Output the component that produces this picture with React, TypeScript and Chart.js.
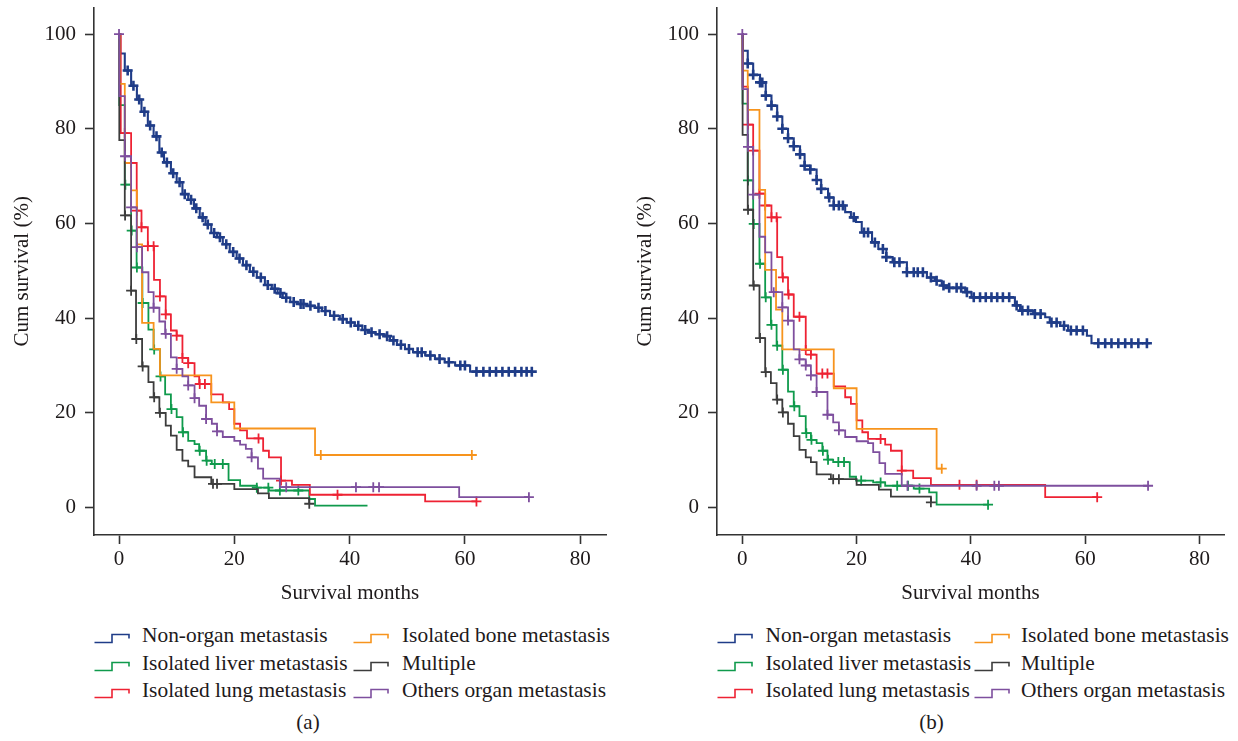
import React, { useEffect, useRef } from "react";
import { Chart, registerables } from "chart.js";

Chart.register(...registerables);

// ---------- axis ticks ----------
const xTicks = [0, 20, 40, 60, 80];
const yTicks = [0, 20, 40, 60, 80, 100];
const xTitle = "Survival months";
const yTitle = "Cum survival (%)";
const legendNames = [
  "Non-organ metastasis",
  "Isolated liver metastasis",
  "Isolated lung metastasis",
  "Isolated bone metastasis",
  "Multiple",
  "Others organ metastasis",
];

// ---------- panel (a) ----------
const aNonT = [0, 0.2, 1.0, 2.1, 3.1, 3.9, 5.0, 6.0, 7.0, 7.8, 9.0, 10.0, 11.0, 12.0, 13.0, 14.0, 15.0, 16.0, 17.0, 18.0, 19.2, 20.4, 21.5, 22.7, 23.9, 25.3, 26.5, 27.5, 28.4, 29.7, 31.0, 32.5, 34.0, 35.2, 36.6, 38.3, 39.5, 40.9, 42.2, 43.2, 44.5, 46.1, 47.0, 48.2, 49.6, 51.0, 53.1, 54.8, 56.5, 58.3, 60.9, 71.6];
const aNonS = [100, 95.9, 92.3, 89.1, 86.2, 83.6, 80.7, 78.4, 75.0, 72.9, 70.6, 68.7, 66.2, 65.0, 63.2, 61.3, 59.8, 58.0, 57.1, 55.6, 54.0, 52.6, 51.2, 49.8, 48.6, 47.0, 46.2, 45.3, 44.3, 43.4, 43.0, 42.6, 42.2, 41.5, 40.5, 39.8, 39.1, 38.4, 37.5, 37.0, 36.6, 36.2, 35.3, 34.4, 33.5, 32.8, 32.1, 31.4, 30.7, 30.0, 28.7, 28.7];
const aNonC = [1.5, 2.5, 3.5, 4.4, 5.4, 6.5, 7.4, 8.3, 9.4, 10.5, 11.4, 12.5, 13.4, 14.5, 15.4, 16.5, 17.5, 18.6, 19.8, 20.9, 22.1, 23.3, 24.6, 25.8, 27.0, 28.0, 29.0, 30.3, 31.5, 32.0, 33.2, 34.6, 35.8, 37.3, 38.8, 40.2, 41.5, 42.7, 43.8, 45.2, 46.5, 47.6, 48.9, 50.3, 51.8, 52.5, 54.0, 55.6, 57.2, 59.2, 60.0, 62.0, 63.2, 64.3, 65.4, 66.5, 67.6, 68.7, 69.8, 70.7, 71.6];

const aLivT = [0, 0.05, 1.0, 2.1, 3.05, 4.05, 5.1, 6.0, 7.1, 8.0, 9.0, 10.0, 11.0, 12.0, 13.1, 13.9, 15.1, 16.1, 19.0, 21.0, 23.9, 26.0, 33.0, 34.0, 43.1];
const aLivS = [100, 85, 68.2, 58.5, 50.7, 43.2, 37.6, 33.4, 27.7, 23.9, 20.8, 19.1, 15.9, 14.1, 13.4, 12.0, 9.9, 9.2, 5.8, 4.6, 4.2, 3.6, 1.8, 0.4, 0.4];
const aLivC = [1.1, 2.2, 3.1, 4.1, 6.1, 7.2, 9.1, 11.1, 14.0, 15.2, 16.6, 18.0, 23.9, 25.9, 27.9, 31.1];

const aLunT = [0, 0.3, 2.1, 3.07, 3.9, 5.0, 6.07, 7.1, 8.1, 9.0, 10.0, 11.0, 12.0, 13.1, 13.9, 16.0, 18.0, 19.1, 20.0, 21.0, 22.2, 25.0, 26.0, 28.1, 30.0, 33.1, 53.1, 62.0];
const aLunS = [100, 79.1, 72.8, 62.7, 59.2, 55.2, 48.1, 44.6, 40.8, 37.4, 36.3, 31.6, 30.5, 27.7, 26.1, 23.9, 22.2, 20.8, 17.7, 16.3, 14.6, 12.0, 10.6, 5.7, 4.8, 2.7, 1.3, 1.3];
const aLunC = [1.0, 2.1, 3.1, 3.9, 5.0, 6.0, 7.1, 8.1, 10.0, 11.0, 12.0, 14.0, 14.9, 24.2, 28.1, 37.9, 62.0];

const aBonT = [0, 0.1, 1.0, 2.1, 3.1, 4.0, 6.0, 7.1, 16.0, 20.0, 34.0, 61.2];
const aBonS = [100, 89.5, 72.8, 67.0, 55.6, 39.0, 33.5, 27.9, 22.2, 16.7, 11.1, 11.1];
const aBonC = [35.0, 61.2];

const aMulT = [0, 0.05, 1.0, 2.1, 2.95, 4.0, 5.1, 6.0, 7.0, 8.1, 9.0, 10.0, 11.0, 12.0, 13.1, 16.0, 20.0, 24.1, 26.0, 33.0];
const aMulS = [100, 77.6, 61.7, 45.8, 35.6, 29.8, 26.5, 23.3, 20.0, 17.3, 15.2, 12.2, 9.9, 8.7, 6.4, 5.0, 3.9, 3.0, 2.0, 0.8];
const aMulC = [1.05, 2.1, 3.0, 4.1, 6.1, 7.1, 16.3, 17.0, 33.0];

const aOthT = [0, 0.05, 1.0, 2.1, 3.07, 4.0, 5.1, 6.0, 7.0, 8.0, 9.0, 10.0, 11.0, 12.0, 13.1, 13.9, 15.1, 16.1, 17.0, 18.0, 20.0, 21.0, 22.0, 23.0, 24.1, 25.0, 27.9, 59.0, 71.1];
const aOthS = [100, 86.9, 74.2, 63.4, 55.0, 49.7, 45.5, 42.2, 39.3, 36.7, 31.7, 29.3, 27.7, 25.8, 23.1, 21.5, 18.7, 17.7, 16.1, 14.9, 14.1, 13.3, 12.4, 10.6, 8.2, 6.1, 4.3, 2.2, 2.2];
const aOthC = [0, 1.05, 2.1, 3.1, 6.0, 8.1, 10.0, 12.0, 13.1, 15.1, 17.0, 23.0, 29.0, 41.1, 44.1, 45.1, 71.1];

// ---------- panel (b) ----------
const bNonT = [0, 0.1, 0.95, 1.9, 3.1, 4.1, 5.1, 6.1, 7.0, 8.0, 9.0, 10.1, 10.9, 11.9, 13.0, 13.8, 15.0, 16.0, 18.0, 19.0, 19.9, 20.9, 22.7, 23.8, 25.2, 26.3, 28.8, 32.3, 33.7, 34.9, 35.8, 39.0, 40.1, 47.7, 48.6, 50.9, 53.0, 53.8, 55.6, 57.0, 60.3, 61.1, 71.3];
const bNonS = [100, 96.5, 93.8, 91.4, 89.8, 87.0, 84.9, 82.6, 80.0, 78.0, 76.3, 74.6, 72.2, 71.4, 69.2, 67.3, 65.5, 63.8, 62.4, 61.3, 60.3, 58.1, 56.0, 54.6, 52.9, 51.8, 49.7, 48.6, 47.9, 46.9, 46.4, 45.5, 44.4, 42.7, 41.6, 40.9, 40.2, 39.1, 38.4, 37.4, 36.3, 34.7, 34.7];
const bNonC = [0.95, 1.9, 3.1, 3.5, 4.1, 5.1, 6.1, 7.0, 8.0, 9.0, 10.1, 10.9, 11.9, 13.0, 13.8, 15.2, 16.0, 16.9, 17.6, 19.5, 21.3, 22.0, 23.2, 24.6, 25.2, 26.6, 27.5, 28.8, 30.0, 30.7, 31.6, 33.0, 34.0, 35.2, 36.2, 37.5, 38.3, 39.3, 40.5, 41.6, 42.6, 43.6, 44.6, 45.6, 46.7, 48.0, 49.0, 50.0, 51.2, 52.2, 54.1, 55.0, 56.3, 57.5, 58.5, 59.6, 62.3, 63.5, 64.6, 65.8, 67.0, 68.1, 69.3, 70.8];

const bLivT = [0, 0.05, 0.95, 1.9, 3.0, 4.0, 5.0, 6.0, 7.0, 8.0, 9.0, 10.0, 11.1, 12.0, 13.0, 14.0, 14.9, 15.9, 18.8, 19.9, 22.9, 25.0, 30.0, 32.7, 34.0, 43.0];
const bLivS = [100, 85.3, 69.1, 59.9, 51.5, 44.4, 38.6, 34.2, 29.1, 24.5, 21.4, 19.3, 15.7, 14.3, 13.6, 12.0, 10.1, 9.6, 6.5, 5.7, 5.3, 4.6, 4.0, 3.2, 0.6, 0.6];
const bLivC = [1.0, 2.0, 3.1, 4.1, 5.1, 6.1, 7.1, 9.1, 11.2, 12.1, 14.1, 15.0, 16.8, 17.8, 20.8, 24.2, 27.1, 29.0, 31.0, 43.0];

const bLunT = [0, 0.05, 0.95, 1.9, 3.0, 4.0, 5.1, 6.1, 7.0, 8.0, 9.0, 11.1, 12.0, 13.0, 16.0, 18.0, 19.0, 20.0, 21.0, 22.0, 25.0, 26.0, 27.9, 29.9, 33.0, 53.0, 62.1];
const bLunS = [100, 88.9, 80.9, 75.4, 66.3, 63.8, 61.3, 52.9, 48.6, 45.0, 40.3, 33.3, 32.3, 28.3, 25.6, 23.3, 21.9, 18.4, 15.9, 14.5, 13.3, 12.0, 7.8, 6.2, 4.8, 2.2, 2.2];
const bLunC = [1.0, 1.9, 3.0, 4.0, 5.1, 6.0, 7.1, 8.1, 10.0, 11.1, 12.0, 14.0, 14.9, 24.2, 27.9, 38.0, 41.0, 62.1];

const bBonT = [0, 0.05, 0.95, 3.0, 4.0, 5.9, 7.0, 16.0, 20.0, 34.0, 34.9];
const bBonS = [100, 92.3, 84.0, 67.1, 50.2, 41.8, 33.4, 25.2, 16.6, 8.2, 8.2];
const bBonC = [34.9];

const bMulT = [0, 0.05, 0.95, 1.9, 3.0, 4.0, 5.0, 6.0, 7.0, 8.0, 9.0, 10.0, 11.1, 12.0, 13.0, 15.5, 20.0, 23.9, 26.0, 33.0];
const bMulS = [100, 78.7, 62.9, 46.9, 35.8, 28.6, 26.3, 22.8, 20.1, 17.7, 15.1, 12.2, 10.6, 9.6, 7.0, 6.0, 4.8, 3.8, 2.3, 1.1];
const bMulC = [1.0, 2.0, 3.1, 4.1, 6.1, 7.1, 15.9, 16.9, 33.0];

const bOthT = [0, 0.05, 0.95, 1.9, 3.0, 4.0, 5.1, 7.0, 8.0, 9.0, 10.0, 11.1, 12.0, 13.0, 14.9, 15.9, 16.9, 18.0, 20.0, 22.0, 22.9, 24.0, 25.0, 27.9, 71.0];
const bOthS = [100, 88.4, 76.2, 66.1, 57.2, 53.9, 45.5, 42.3, 39.5, 33.4, 31.3, 30.0, 27.9, 24.4, 19.6, 18.0, 16.3, 14.9, 14.0, 13.6, 11.7, 9.4, 7.1, 4.6, 4.6];
const bOthC = [0, 1.0, 1.9, 5.5, 7.0, 8.0, 10.0, 11.1, 12.0, 13.0, 14.9, 16.9, 28.9, 41.0, 44.1, 44.9, 71.0];

// ---------- styling ----------
const FONT = "'Liberation Serif', 'Times New Roman', serif";
const TEXT = "#1e1a1b";
const AXIS = "#333333";
const colors = ["#1f3c88", "#0f9a4c", "#ee2233", "#f7941d", "#3c3c3c", "#7e4f9e"];
const drawOrder = [5, 4, 3, 2, 1, 0];

type Series = { T: number[]; S: number[]; C: number[] };

const panelA: Series[] = [
  { T: aNonT, S: aNonS, C: aNonC },
  { T: aLivT, S: aLivS, C: aLivC },
  { T: aLunT, S: aLunS, C: aLunC },
  { T: aBonT, S: aBonS, C: aBonC },
  { T: aMulT, S: aMulS, C: aMulC },
  { T: aOthT, S: aOthS, C: aOthC },
];
const panelB: Series[] = [
  { T: bNonT, S: bNonS, C: bNonC },
  { T: bLivT, S: bLivS, C: bLivC },
  { T: bLunT, S: bLunS, C: bLunC },
  { T: bBonT, S: bBonS, C: bBonC },
  { T: bMulT, S: bMulS, C: bMulC },
  { T: bOthT, S: bOthS, C: bOthC },
];

function survAt(T: number[], S: number[], t: number) {
  let v = S[0];
  for (let i = 0; i < T.length; i++) {
    if (T[i] <= t) v = S[i];
    else break;
  }
  return v;
}

type PanelGeom = {
  W: number;
  H: number;
  axisLeft: number;
  axisRight: number;
  axisTop: number;
  axisBottom: number;
  xMin: number;
  xMax: number;
  yMin: number;
  yMax: number;
  yTitleX: number;
  xTitleY: number;
};

function buildConfig(series: Series[], g: PanelGeom): any {
  const datasets: any[] = [];
  series.forEach((s, i) => {
    const w = i === 0 ? 2.1 : 1.8;
    datasets.push({
      type: "line",
      label: legendNames[i],
      data: s.T.map((t, k) => ({ x: t, y: s.S[k] })),
      borderColor: colors[i],
      borderWidth: w,
      stepped: "before",
      pointRadius: 0,
      fill: false,
      order: drawOrder[i],
    });
    datasets.push({
      type: "line",
      label: legendNames[i] + " censored",
      data: s.C.map((t) => ({ x: t, y: survAt(s.T, s.S, t) })),
      showLine: false,
      pointStyle: "cross",
      pointRadius: 5,
      pointBorderColor: colors[i],
      pointBackgroundColor: colors[i],
      pointBorderWidth: i === 0 ? 2.6 : 1.8,
      borderColor: colors[i],
      order: drawOrder[i],
    });
  });
  const font = { family: FONT, size: 21, lineHeight: 1.2 };
  return {
    type: "line",
    data: { datasets },
    options: {
      responsive: false,
      maintainAspectRatio: false,
      animation: false,
      events: [],
      layout: { padding: { left: 0, top: g.axisTop, right: g.W - g.axisRight, bottom: 0 } },
      plugins: { legend: { display: false }, tooltip: { enabled: false } },
      scales: {
        x: {
          type: "linear",
          min: g.xMin,
          max: g.xMax,
          afterBuildTicks: (sc: any) => {
            sc.ticks = xTicks.map((v) => ({ value: v }));
          },
          afterFit: (sc: any) => {
            sc.height = g.H - g.axisBottom;
            sc.paddingLeft = 0;
            sc.paddingRight = 0;
          },
          grid: { drawOnChartArea: false, drawTicks: true, tickLength: 9, tickColor: AXIS, tickWidth: 1.6 },
          border: { display: true, color: AXIS, width: 1.6 },
          ticks: { font, color: TEXT, padding: 3, maxRotation: 0, callback: (v: any) => String(v) },
          title: {
            display: true,
            text: xTitle,
            font,
            color: TEXT,
            padding: { top: 0, bottom: g.H - g.xTitleY - 12.6 },
          },
        },
        y: {
          type: "linear",
          min: g.yMin,
          max: g.yMax,
          afterBuildTicks: (sc: any) => {
            sc.ticks = yTicks.map((v) => ({ value: v }));
          },
          afterFit: (sc: any) => {
            sc.width = g.axisLeft;
            sc.paddingTop = 0;
            sc.paddingBottom = 0;
          },
          grid: { drawOnChartArea: false, drawTicks: true, tickLength: 9, tickColor: AXIS, tickWidth: 1.6 },
          border: { display: true, color: AXIS, width: 1.6 },
          ticks: { font, color: TEXT, padding: 9, callback: (v: any) => String(v) },
          title: {
            display: true,
            text: yTitle,
            font,
            color: TEXT,
            padding: { top: g.yTitleX - 12.6, bottom: 0 },
          },
        },
      },
    },
  };
}

const geomA: PanelGeom = {
  W: 619, H: 620, axisLeft: 94, axisRight: 606, axisTop: 7, axisBottom: 535,
  xMin: -4.34, xMax: 84.47, yMin: -5.8, yMax: 105.6, yTitleX: 22, xTitleY: 593,
};
const geomB: PanelGeom = {
  W: 619, H: 620, axisLeft: 98, axisRight: 605, axisTop: 7, axisBottom: 535,
  xMin: -4.43, xMax: 84.29, yMin: -5.8, yMax: 105.6, yTitleX: 26, xTitleY: 593,
};

function Panel({ series, geom, left }: { series: Series[]; geom: PanelGeom; left: number }) {
  const ref = useRef<HTMLCanvasElement | null>(null);
  useEffect(() => {
    if (!ref.current) return;
    const chart = new Chart(ref.current, buildConfig(series, geom));
    return () => chart.destroy();
  }, []);
  return (
    <canvas
      ref={ref}
      width={geom.W}
      height={geom.H}
      style={{ position: "absolute", left, top: 0, width: geom.W, height: geom.H }}
    />
  );
}

const legendCols: number[][] = [
  [0, 1, 2],
  [3, 4, 5],
];
const rowBaselines = [643, 670.5, 698];

function Legend({ iconX, textX }: { iconX: number[]; textX: number[] }) {
  const items: React.ReactNode[] = [];
  legendCols.forEach((col, ci) => {
    col.forEach((si, ri) => {
      const base = rowBaselines[ri];
      items.push(
        <svg
          key={`i${ci}${ri}`}
          width={36}
          height={12}
          style={{ position: "absolute", left: iconX[ci], top: base - 10 }}
        >
          <path d="M0.5 9.5 H18 V1.5 H35 V5.5" fill="none" stroke={colors[si]} strokeWidth={1.6} />
        </svg>
      );
      items.push(
        <div
          key={`t${ci}${ri}`}
          style={{
            position: "absolute",
            left: textX[ci],
            top: base - 17.8,
            fontFamily: FONT,
            fontSize: 21.4,
            lineHeight: "21px",
            color: TEXT,
            whiteSpace: "nowrap",
          }}
        >
          {legendNames[si]}
        </div>
      );
    });
  });
  return <>{items}</>;
}

function Caption({ text, cx }: { text: string; cx: number }) {
  return (
    <div
      style={{
        position: "absolute",
        left: cx - 40,
        width: 80,
        top: 730 - 17.6,
        textAlign: "center",
        fontFamily: FONT,
        fontSize: 21,
        lineHeight: "21px",
        color: TEXT,
      }}
    >
      {text}
    </div>
  );
}

export default function App() {
  return (
    <div
      style={{
        position: "absolute",
        left: 0,
        top: 0,
        width: 1238,
        height: 741,
        background: "#ffffff",
        overflow: "hidden",
      }}
    >
      <Panel series={panelA} geom={geomA} left={0} />
      <Panel series={panelB} geom={geomB} left={619} />
      <Legend iconX={[94, 353]} textX={[142, 402]} />
      <Legend iconX={[717, 974]} textX={[765.5, 1021]} />
      <Caption text="(a)" cx={308} />
      <Caption text="(b)" cx={931.5} />
    </div>
  );
}
